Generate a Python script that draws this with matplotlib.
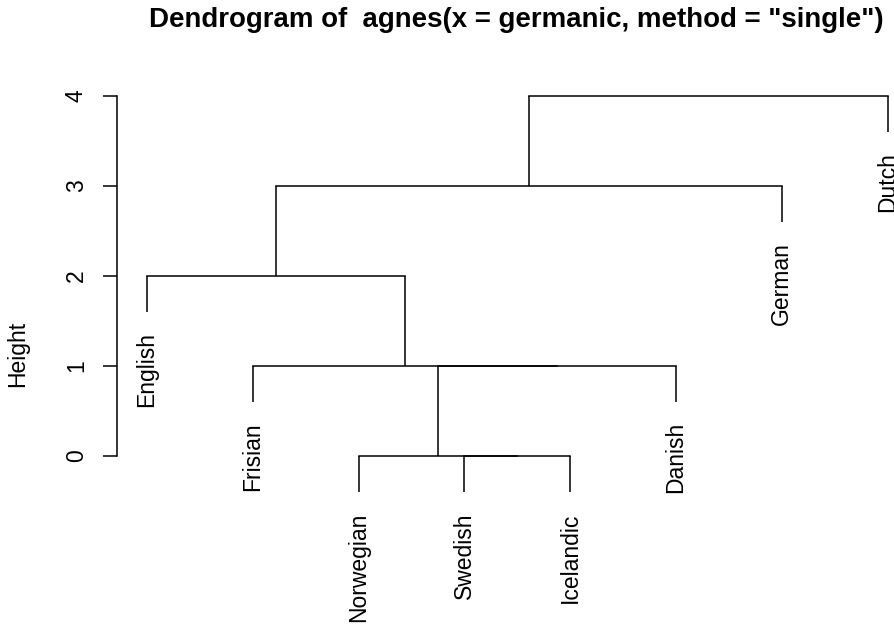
import matplotlib
matplotlib.use('Agg')
import matplotlib.pyplot as plt

plt.rcParams['font.family'] = ['Liberation Sans', 'DejaVu Sans']

# leaves in plotting order
labels = ['English', 'Frisian', 'Norwegian', 'Swedish', 'Icelandic', 'Danish', 'German', 'Dutch']
# merges like R's hclust: negative = leaf number, positive = earlier merge step
merge_a = [-4, -3, 2, -2, -1, 5, 6]
merge_b = [-5, 1, -6, 3, 4, -7, -8]
heights = [0, 0, 1, 1, 2, 3, 4]
yticks = [0, 1, 2, 3, 4]
hang = 0.1

fig = plt.figure(figsize=(8.94, 6.24), dpi=100)
ax = fig.add_axes([0, 0, 1, 1])

# pixel layout of the reference: leaf 1 at 147px, leaf 8 at 887.5px, height 0 at 456px, 90px per unit
ppx = (887.5 - 147) / 7
ax.set_xlim(1 - 147 / ppx, 1 + (894 - 147) / ppx)
ax.set_ylim(-(624 - 456) / 90, 456 / 90)

hang_len = hang * (max(heights) - min(heights))


def node(k):
    # returns x position, height of a node
    if k < 0:
        return -k, None
    return xpos[k - 1], heights[k - 1]


xpos = []
for a, b, h in zip(merge_a, merge_b, heights):
    xa, ha = node(a)
    xb, hb = node(b)
    for x, hh, k in ((xa, ha, a), (xb, hb, b)):
        bottom = h - hang_len if k < 0 else hh
        ax.plot([x, x], [bottom, h], color='black', lw=1.1, solid_capstyle='butt')
        if k < 0:
            ax.annotate(labels[-k - 1], (x, bottom), xytext=(0, -14.5), textcoords='offset points',
                        rotation=90, ha='center', va='top', fontsize=16.5)
    ax.plot([xa, xb], [h, h], color='black', lw=1.1, solid_capstyle='projecting')
    xpos.append((xa + xb) / 2)

for s in ['top', 'right', 'bottom']:
    ax.spines[s].set_visible(False)
ax.spines['left'].set_position(('data', 1 + (117 - 147) / ppx))
ax.spines['left'].set_bounds(0, 4)
ax.spines['left'].set_linewidth(1.1)
ax.set_xticks([])
ax.set_yticks(yticks)
ax.tick_params(axis='y', direction='out', length=10, width=1.1, pad=11, labelsize=16.5, labelrotation=90)
for lbl in ax.get_yticklabels():
    lbl.set_va('center')

fig.text(18 / 894, 1 - 354 / 624, 'Height', rotation=90, ha='center', va='center', fontsize=16.5)
fig.text(516 / 894, 1 - 27 / 624, 'Dendrogram of  agnes(x = germanic, method = "single")',
         ha='center', va='baseline', fontsize=19.9, fontweight='bold')

fig.savefig('out.png', dpi=100)
